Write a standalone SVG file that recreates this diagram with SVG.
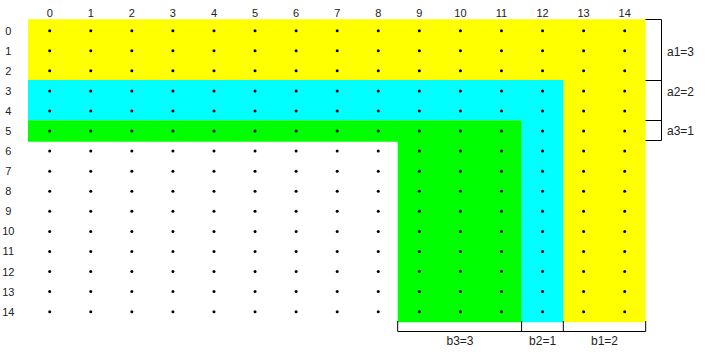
<svg xmlns="http://www.w3.org/2000/svg" xmlns:xlink="http://www.w3.org/1999/xlink" width="708" height="354" viewBox="0 0 708 354">
<style>
text{font-family:"Liberation Sans",Arial,sans-serif;font-size:11px;fill:#222;text-anchor:middle}
.lbl{font-size:12px;text-anchor:start}
.lblc{font-size:12px}
.br{stroke:#000;stroke-width:1;fill:none}
</style>
<defs>
<g id="row">
<circle cx="49.7" cy="0" r="1.5"/><circle cx="90.77" cy="0" r="1.5"/><circle cx="131.84" cy="0" r="1.5"/><circle cx="172.91" cy="0" r="1.5"/><circle cx="213.98" cy="0" r="1.5"/><circle cx="255.05" cy="0" r="1.5"/><circle cx="296.12" cy="0" r="1.5"/><circle cx="337.19" cy="0" r="1.5"/><circle cx="378.26" cy="0" r="1.5"/><circle cx="419.33" cy="0" r="1.5"/><circle cx="460.4" cy="0" r="1.5"/><circle cx="501.47" cy="0" r="1.5"/><circle cx="542.54" cy="0" r="1.5"/><circle cx="583.61" cy="0" r="1.5"/><circle cx="624.68" cy="0" r="1.5"/>
</g>
</defs>
<rect width="708" height="354" fill="#fff"/>
<g id="regions">
<path id="yellow" d="M28,19.3 H645.5 V322.3 H563.3 V80 H28 Z" fill="#ffff00"/>
<path id="cyan" d="M28,80 H563.3 V322.3 H521.5 V120.3 H28 Z" fill="#00ffff"/>
<path id="green" d="M28,120.3 H521.5 V322.3 H397.7 V141.7 H28 Z" fill="#00ff00"/>
</g>
<g id="dots" fill="#000">
<use xlink:href="#row" y="30.7"/><use xlink:href="#row" y="50.77"/><use xlink:href="#row" y="70.84"/><use xlink:href="#row" y="90.91"/><use xlink:href="#row" y="110.98"/><use xlink:href="#row" y="131.05"/><use xlink:href="#row" y="151.12"/><use xlink:href="#row" y="171.19"/><use xlink:href="#row" y="191.26"/><use xlink:href="#row" y="211.33"/><use xlink:href="#row" y="231.4"/><use xlink:href="#row" y="251.47"/><use xlink:href="#row" y="271.54"/><use xlink:href="#row" y="291.61"/><use xlink:href="#row" y="311.68"/>
</g>
<g id="col-headers">
<text x="49.7" y="16.5">0</text><text x="90.77" y="16.5">1</text><text x="131.84" y="16.5">2</text><text x="172.91" y="16.5">3</text><text x="213.98" y="16.5">4</text><text x="255.05" y="16.5">5</text><text x="296.12" y="16.5">6</text><text x="337.19" y="16.5">7</text><text x="378.26" y="16.5">8</text><text x="419.33" y="16.5">9</text><text x="460.4" y="16.5">10</text><text x="501.47" y="16.5">11</text><text x="542.54" y="16.5">12</text><text x="583.61" y="16.5">13</text><text x="624.68" y="16.5">14</text>
</g>
<g id="row-headers">
<text x="8.3" y="34.7">0</text><text x="8.3" y="54.77">1</text><text x="8.3" y="74.84">2</text><text x="8.3" y="94.91">3</text><text x="8.3" y="114.98">4</text><text x="8.3" y="135.05">5</text><text x="8.3" y="155.12">6</text><text x="8.3" y="175.19">7</text><text x="8.3" y="195.26">8</text><text x="8.3" y="215.33">9</text><text x="8.3" y="235.4">10</text><text x="8.3" y="255.47">11</text><text x="8.3" y="275.54">12</text><text x="8.3" y="295.61">13</text><text x="8.3" y="315.68">14</text>
</g>
<g id="right-bracket">
<path class="br" d="M645.5,19.5 H661.5 V140.5 H645.5 M645.5,80.5 H661.5 M645.5,120.5 H661.5"/>
<text class="lbl" x="667" y="55.7">a1=3</text>
<text class="lbl" x="667" y="95.7">a2=2</text>
<text class="lbl" x="667" y="134.9">a3=1</text>
</g>
<g id="bottom-bracket">
<path class="br" d="M397.7,321 V331.5 H645.7 V321 M521.6,321 V331.5 M563.3,321 V331.5"/>
<text class="lblc" x="460" y="344.9">b3=3</text>
<text class="lblc" x="542.6" y="344.9">b2=1</text>
<text class="lblc" x="604.5" y="344.9">b1=2</text>
</g>
</svg>
